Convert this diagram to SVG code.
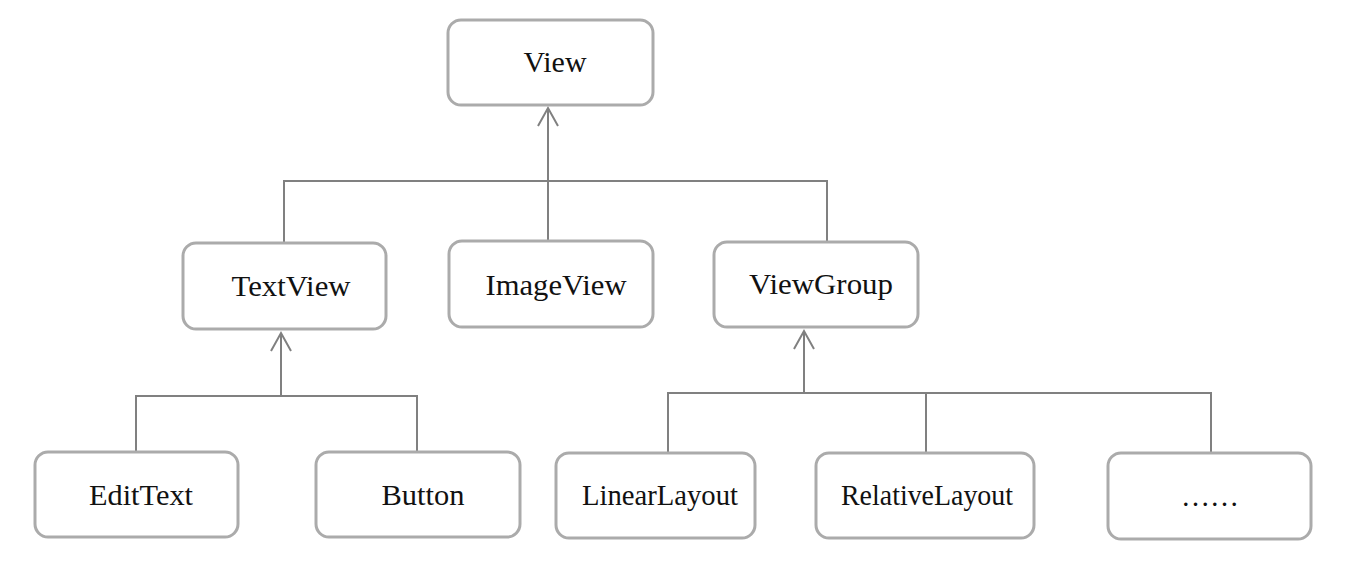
<svg xmlns="http://www.w3.org/2000/svg" width="1356" height="562" viewBox="0 0 1356 562">
<defs>
<style>
.box{fill:#fff;stroke:#ababab;stroke-width:3}
.lbl{font-family:"Liberation Serif","Times New Roman",serif;font-size:30px;fill:#111;text-anchor:middle}
.con{fill:none;stroke:#808080;stroke-width:2}
</style>
<marker id="arr" markerUnits="userSpaceOnUse" markerWidth="24" markerHeight="24" refX="0" refY="0" orient="auto" style="overflow:visible">
<path d="M-18,-10 L0,0 L-18,10" fill="none" stroke="#808080" stroke-width="2"/>
</marker>
</defs>
<rect width="1356" height="562" fill="#fff"/>
<g id="connectors">
<line class="con" x1="548" y1="181" x2="548" y2="108" marker-end="url(#arr)"/>
<polyline class="con" points="284,243 284,181 827,181 827,242"/>
<line class="con" x1="548" y1="181" x2="548" y2="241"/>
<line class="con" x1="281" y1="396" x2="281" y2="333" marker-end="url(#arr)"/>
<polyline class="con" points="136,452 136,396 417,396 417,452"/>
<line class="con" x1="804" y1="393" x2="804" y2="331" marker-end="url(#arr)"/>
<polyline class="con" points="668,453 668,393 1211,393 1211,453"/>
<line class="con" x1="926" y1="393" x2="926" y2="453"/>
</g>
<g id="view"><rect class="box" x="448" y="20" width="205" height="85" rx="13"/><text class="lbl" x="555" y="72" textLength="63" lengthAdjust="spacingAndGlyphs">View</text></g>
<g id="textview"><rect class="box" x="183" y="243" width="203" height="86" rx="13"/><text class="lbl" x="291" y="296" textLength="119" lengthAdjust="spacingAndGlyphs">TextView</text></g>
<g id="imageview"><rect class="box" x="449" y="241" width="204" height="86" rx="13"/><text class="lbl" x="556" y="295" textLength="141" lengthAdjust="spacingAndGlyphs">ImageView</text></g>
<g id="viewgroup"><rect class="box" x="714" y="242" width="204" height="85" rx="13"/><text class="lbl" x="821" y="294" textLength="144" lengthAdjust="spacingAndGlyphs">ViewGroup</text></g>
<g id="edittext"><rect class="box" x="35" y="452" width="203" height="85" rx="13"/><text class="lbl" x="141" y="505" textLength="104" lengthAdjust="spacingAndGlyphs">EditText</text></g>
<g id="button"><rect class="box" x="316" y="452" width="204" height="85" rx="13"/><text class="lbl" x="423" y="505" textLength="83" lengthAdjust="spacingAndGlyphs">Button</text></g>
<g id="linearlayout"><rect class="box" x="556" y="453" width="199" height="85" rx="13"/><text class="lbl" x="660" y="505" textLength="156" lengthAdjust="spacingAndGlyphs">LinearLayout</text></g>
<g id="relativelayout"><rect class="box" x="816" y="453" width="218" height="85" rx="13"/><text class="lbl" x="927" y="505" textLength="172" lengthAdjust="spacingAndGlyphs">RelativeLayout</text></g>
<g id="more"><rect class="box" x="1108" y="453" width="203" height="86" rx="13"/><text class="lbl" x="1210" y="506" textLength="58" lengthAdjust="spacingAndGlyphs">……</text></g>
</svg>
